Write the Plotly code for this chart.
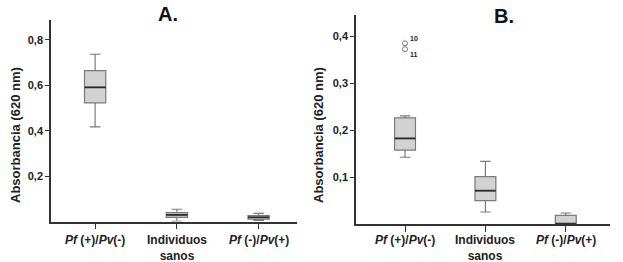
import plotly.graph_objects as go

W, H = 623, 262

categories = ["<b><i>Pf</i> (+)/<i>Pv</i>(-)</b>", "<b>Individuos<br>sanos</b>", "<b><i>Pf</i> (-)/<i>Pv</i>(+)</b>"]
cat_pos = [0, 1, 2]

# Panel A
a_lower = [0.417, 0.001, 0.005]
a_q1 = [0.523, 0.018, 0.010]
a_median = [0.591, 0.029, 0.018]
a_q3 = [0.665, 0.039, 0.026]
a_upper = [0.737, 0.054, 0.036]

# Panel B
b_lower = [0.142, 0.0255, 0.0]
b_q1 = [0.157, 0.0496, 0.0]
b_median = [0.182, 0.0709, 0.0]
b_q3 = [0.226, 0.1006, 0.0185]
b_upper = [0.230, 0.1334, 0.0234]

b_outliers_y = [0.3845, 0.372]
b_outlier_labels = ["10", "11"]

a_ticks = [0.2, 0.4, 0.6, 0.8]
a_ticktext = ["0,2", "0,4", "0,6", "0,8"]
b_ticks = [0.1, 0.2, 0.3, 0.4]
b_ticktext = ["0,1", "0,2", "0,3", "0,4"]

BOXW = 0.26
FILL = "#d2d2d2"
LINE = "#7a7a7a"
MED = "#2a2a2a"
AX = "#333333"

fig = go.Figure()

def add_panel(xa, ya, lower, q1, med, q3, upper):
    fig.add_trace(go.Box(
        x=cat_pos, q1=q1, median=med, q3=q3, lowerfence=lower, upperfence=upper,
        width=BOXW, whiskerwidth=0.5, fillcolor=FILL,
        line=dict(color=LINE, width=1.2), boxpoints=False,
        xaxis=xa, yaxis=ya, showlegend=False, hoverinfo="skip"))
    for x, m, lo, hi in zip(cat_pos, med, q1, q3):
        if hi - lo <= 0:
            continue
        fig.add_trace(go.Scatter(
            x=[x - BOXW / 2, x + BOXW / 2], y=[m, m], mode="lines",
            line=dict(color=MED, width=1.8), xaxis=xa, yaxis=ya,
            showlegend=False, hoverinfo="skip"))

add_panel("x", "y", a_lower, a_q1, a_median, a_q3, a_upper)
add_panel("x2", "y2", b_lower, b_q1, b_median, b_q3, b_upper)

fig.add_trace(go.Scatter(
    x=[cat_pos[0]] * len(b_outliers_y), y=b_outliers_y, mode="markers",
    marker=dict(symbol="circle-open", size=5, color="#777777", line=dict(width=1)),
    xaxis="x2", yaxis="y2", showlegend=False, hoverinfo="skip"))

font_family = "Liberation Sans, Arial, sans-serif"

xcommon = dict(tickmode="array", tickvals=cat_pos, showticklabels=False,
               showline=True, linecolor=AX, linewidth=1.5, ticks="outside",
               ticklen=6, tickcolor=AX, tickwidth=1.2, showgrid=False, zeroline=False)
ycommon = dict(tickmode="array", showline=True, linecolor=AX, linewidth=1.5,
               ticks="outside", ticklen=4, tickcolor=AX, tickwidth=1.2,
               showgrid=False, zeroline=False,
               tickfont=dict(size=11, color="#222", family=font_family))

def px_x(p):
    return p / W

def px_y(p):
    return 1 - p / H

fig.update_layout(
    width=W, height=H, margin=dict(l=0, r=0, t=0, b=0),
    plot_bgcolor="white", paper_bgcolor="white",
    font=dict(family=font_family, color="#222"),
    xaxis=dict(domain=[px_x(51), px_x(297)], range=[-0.54, 2.47], anchor="y", **xcommon),
    yaxis=dict(domain=[px_y(221.5), px_y(20)], range=[0, 0.888], anchor="x",
               tickvals=a_ticks, ticktext=["<b>%s</b>" % t for t in a_ticktext], **ycommon),
    xaxis2=dict(domain=[px_x(356), px_x(610)], range=[-0.61, 2.55], anchor="y2", **xcommon),
    yaxis2=dict(domain=[px_y(224), px_y(15)], range=[0, 0.4447], anchor="x2",
                tickvals=b_ticks, ticktext=["<b>%s</b>" % t for t in b_ticktext], **ycommon),
)

annos = [
    dict(text="<b>A.</b>", x=px_x(168), y=px_y(14), font=dict(size=20, color="#111")),
    dict(text="<b>B.</b>", x=px_x(504), y=px_y(16), font=dict(size=20, color="#111")),
    dict(text="<b>Absorbancia (620 nm)</b>", x=px_x(15), y=px_y(135), textangle=-90,
         font=dict(size=13, color="#222")),
    dict(text="<b>Absorbancia (620 nm)</b>", x=px_x(318), y=px_y(135), textangle=-90,
         font=dict(size=13, color="#222")),
]
for a in annos:
    fig.add_annotation(xref="paper", yref="paper", showarrow=False,
                       xanchor="center", yanchor="middle", **a)

# category labels under each x axis (vertical centre in px per label)
label_centers = [240, 247.5, 240]
for xref in ["x", "x2"]:
    for xp, lab, cy in zip(cat_pos, categories, label_centers):
        fig.add_annotation(x=xp, y=px_y(cy), xref=xref, yref="paper", text=lab,
                           showarrow=False, xanchor="center", yanchor="middle",
                           align="center", font=dict(size=12, color="#222"))

for yv, lab, ys in zip(b_outliers_y, b_outlier_labels, [5, -5]):
    fig.add_annotation(x=cat_pos[0], y=yv, xref="x2", yref="y2", text="<b>%s</b>" % lab,
                       showarrow=False, xanchor="left", yanchor="middle",
                       xshift=3, yshift=ys, font=dict(size=7, color="#222"))

fig.write_html("out.html", config={"displayModeBar": False},
               post_script="document.body.style.margin='0';document.body.style.overflow='hidden';")
